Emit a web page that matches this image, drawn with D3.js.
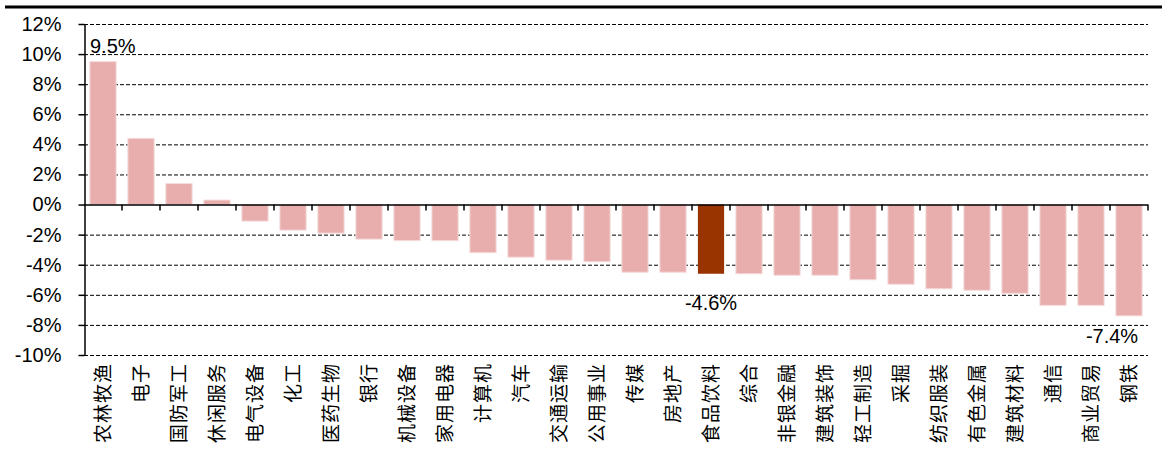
<!DOCTYPE html>
<html>
<head>
<meta charset="utf-8">
<script src="https://cdn.jsdelivr.net/npm/d3@7"></script>
<style>
  body { margin: 0; background: #fff; }
  svg { display: block; }
  .tick text { font-family: 'Liberation Sans', Arial, sans-serif; }
</style>
</head>
<body>
<svg id="chart" width="1173" height="459"></svg>
<script>
const sectors = ['农林牧渔', '电子', '国防军工', '休闲服务', '电气设备', '化工', '医药生物', '银行',
  '机械设备', '家用电器', '计算机', '汽车', '交通运输', '公用事业', '传媒', '房地产',
  '食品饮料', '综合', '非银金融', '建筑装饰', '轻工制造', '采掘', '纺织服装', '有色金属',
  '建筑材料', '通信', '商业贸易', '钢铁']
const changes = [9.5, 4.4, 1.4, 0.3, -1.1, -1.7, -1.9, -2.3,
  -2.4, -2.4, -3.2, -3.5, -3.7, -3.8, -4.5, -4.5,
  -4.6, -4.6, -4.7, -4.7, -5.0, -5.3, -5.6, -5.7,
  -5.9, -6.7, -6.7, -7.4]
const yTicks = [-10, -8, -6, -4, -2, 0, 2, 4, 6, 8, 10, 12]
const highlight = '食品饮料'
const labelled = ['农林牧渔', '食品饮料', '钢铁']

const svg = d3.select('#chart')
const font = "'Liberation Sans', Arial, sans-serif"

const x = d3.scaleBand().domain(sectors).range([84, 1148]).paddingInner(0.31).paddingOuter(0.155)
const y = d3.scaleLinear().domain([-10, 12]).range([355, 24])

// top border
svg.append('line')
  .attr('x1', 5).attr('x2', 1162).attr('y1', 7).attr('y2', 7)
  .attr('stroke', '#000').attr('stroke-width', 3)

// grid
svg.append('g')
  .selectAll('line')
  .data(yTicks.filter((d) => d !== 0))
  .join('line')
  .attr('x1', 84).attr('x2', 1148)
  .attr('y1', (d) => y(d) + 0.5).attr('y2', (d) => y(d) + 0.5)
  .attr('stroke', '#000').attr('stroke-width', 1)
  .attr('stroke-dasharray', '4,2')

// bars
svg.append('g')
  .selectAll('rect')
  .data(sectors)
  .join('rect')
  .attr('x', (d) => x(d))
  .attr('width', x.bandwidth())
  .attr('y', (d, i) => y(Math.max(0, changes[i])))
  .attr('height', (d, i) => Math.abs(y(changes[i]) - y(0)))
  .attr('fill', (d) => (d === highlight ? '#993300' : '#E8ADAD'))
  .attr('stroke', (d) => (d === highlight ? 'none' : '#F6DCDC'))
  .attr('stroke-width', 1)

// y axis
const yAxis = svg.append('g')
  .attr('transform', 'translate(84.5,0)')
  .call(d3.axisLeft(y).tickValues(yTicks).tickFormat((d) => d + '%').tickSize(6).tickSizeOuter(0))
yAxis.select('.domain').attr('stroke', '#000').attr('stroke-width', 1.5)
yAxis.selectAll('.tick line').attr('stroke', '#000').attr('stroke-width', 1.5)
yAxis.selectAll('.tick text')
  .attr('x', -23)
  .attr('font-size', 20)
  .attr('fill', '#000')

// zero line with band ticks
const bounds = sectors.map((d) => x(d) - (x.step() - x.bandwidth()) / 2).concat([1148])
svg.append('line')
  .attr('x1', 84).attr('x2', 1148).attr('y1', y(0) + 0.5).attr('y2', y(0) + 0.5)
  .attr('stroke', '#000').attr('stroke-width', 1.5)
svg.append('g')
  .selectAll('line')
  .data(bounds.slice(1))
  .join('line')
  .attr('x1', (d) => d).attr('x2', (d) => d)
  .attr('y1', y(0)).attr('y2', y(0) + 6)
  .attr('stroke', '#000').attr('stroke-width', 1.5)

// category labels, rotated
svg.append('g')
  .selectAll('text')
  .data(sectors)
  .join('text')
  .attr('transform', (d) => `translate(${x(d) + x.bandwidth() / 2 + 7},363) rotate(-90)`)
  .attr('text-anchor', 'end')
  .attr('font-family', "'Noto Sans CJK SC', sans-serif")
  .attr('font-size', 19)
  .attr('letter-spacing', 1)
  .attr('fill', '#000')
  .text((d) => d)

// value labels
const labelOffset = { '农林牧渔': [-13, -9, 'start'], '食品饮料': [0, 36, 'middle'], '钢铁': [-17, 27, 'middle'] }
svg.append('g')
  .selectAll('text')
  .data(labelled)
  .join('text')
  .attr('x', (d) => x(d) + x.bandwidth() / 2 + labelOffset[d][0])
  .attr('y', (d) => y(changes[sectors.indexOf(d)]) + labelOffset[d][1])
  .attr('text-anchor', (d) => labelOffset[d][2])
  .attr('font-family', font)
  .attr('font-size', 20)
  .attr('fill', '#000')
  .text((d) => changes[sectors.indexOf(d)].toFixed(1) + '%')
</script>
</body>
</html>
